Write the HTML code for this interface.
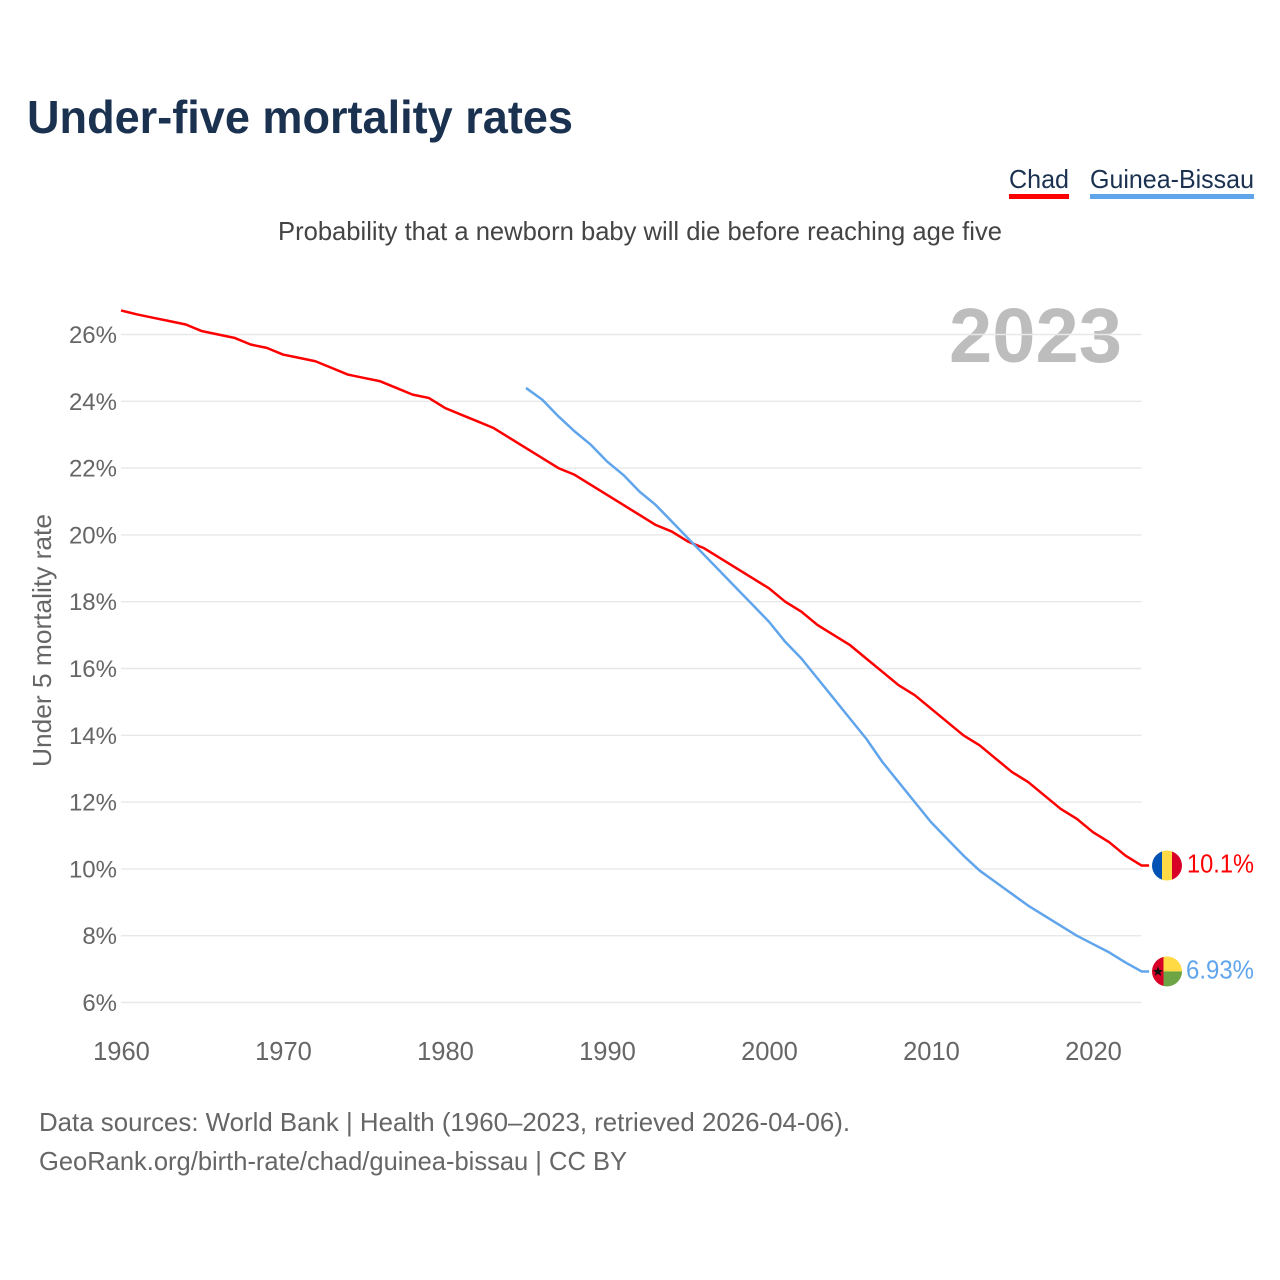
<!DOCTYPE html>
<html lang="en">
<head>
<meta charset="utf-8">
<title>Under-five mortality rates</title>
<style>
html,body{margin:0;padding:0;background:#fff;}
svg{display:block;font-family:"Liberation Sans",sans-serif;}
</style>
</head>
<body>
<svg id="chart" xmlns="http://www.w3.org/2000/svg" width="1280" height="1280" viewBox="0 0 1280 1280">
  <rect width="1280" height="1280" fill="#ffffff"/>
  <defs>
    <clipPath id="flag-clip"><circle cx="0" cy="0" r="15"/></clipPath>
  </defs>
  <text x="27" y="133" font-size="46" font-weight="700" fill="#1a3150" textLength="546" lengthAdjust="spacingAndGlyphs">Under-five mortality rates</text>
  <text x="1009" y="188" font-size="26" fill="#1a3150" textLength="60" lengthAdjust="spacingAndGlyphs">Chad</text>
  <rect x="1009" y="194" width="60" height="5" fill="#ff0000"/>
  <text x="1090" y="188" font-size="26" fill="#1a3150" textLength="164" lengthAdjust="spacingAndGlyphs">Guinea-Bissau</text>
  <rect x="1090" y="194" width="164" height="5" fill="#60a5ec"/>
  <text x="278" y="240" font-size="26" fill="#444444" textLength="724" lengthAdjust="spacingAndGlyphs">Probability that a newborn baby will die before reaching age five</text>
  <text transform="translate(51,767) rotate(-90)" font-size="26" fill="#666666" textLength="253" lengthAdjust="spacingAndGlyphs">Under 5 mortality rate</text>
  <text x="949" y="362" font-size="77" font-weight="700" fill="#bdbdbd" textLength="173" lengthAdjust="spacingAndGlyphs">2023</text>
  <g id="grid"></g>
  <g id="y-ticks"></g>
  <g id="x-ticks"></g>
  <g id="series"></g>
  <g id="flag-chad" clip-path="url(#flag-clip)">
    <rect x="-15" y="-15" width="10" height="30" fill="#0052b4"/>
    <rect x="-5" y="-15" width="10.5" height="30" fill="#ffda44"/>
    <rect x="5" y="-15" width="10" height="30" fill="#d80027"/>
  </g>
  <g id="flag-guinea-bissau" clip-path="url(#flag-clip)">
    <rect x="-15" y="-15" width="11.5" height="30" fill="#d80027"/>
    <rect x="-3.5" y="-15" width="18.5" height="15" fill="#ffda44"/>
    <rect x="-3.5" y="0" width="18.5" height="15" fill="#6da544"/>
    <polygon points="-9,-5 -7.6,-1.5 -4,-1.5 -6.8,0.8 -5.8,4.4 -9,2.3 -12.2,4.4 -11.2,0.8 -14,-1.5 -10.4,-1.5" fill="#111111"/>
  </g>
  <text id="value-chad" x="1187" font-size="26" fill="#ff0000" textLength="67" lengthAdjust="spacingAndGlyphs"></text>
  <text id="value-gb" x="1186" font-size="26" fill="#60a5ec" textLength="68" lengthAdjust="spacingAndGlyphs"></text>
  <text x="39" y="1131" font-size="26" fill="#666666" textLength="811" lengthAdjust="spacingAndGlyphs">Data sources: World Bank | Health (1960–2023, retrieved 2026-04-06).</text>
  <text x="39" y="1170" font-size="26" fill="#666666" textLength="588" lengthAdjust="spacingAndGlyphs">GeoRank.org/birth-rate/chad/guinea-bissau | CC BY</text>
</svg>
<script>
const yTickValues = [6, 8, 10, 12, 14, 16, 18, 20, 22, 24, 26];
const xTickYears = [1960, 1970, 1980, 1990, 2000, 2010, 2020];
const chadStartYear = 1960;
const chadValues = [26.72, 26.6, 26.5, 26.4, 26.3, 26.1, 26.0, 25.9, 25.7, 25.6, 25.4, 25.3, 25.2, 25.0, 24.8, 24.7, 24.6, 24.4, 24.2, 24.1, 23.8, 23.6, 23.4, 23.2, 22.9, 22.6, 22.3, 22.0, 21.8, 21.5, 21.2, 20.9, 20.6, 20.3, 20.1, 19.8, 19.6, 19.3, 19.0, 18.7, 18.4, 18.0, 17.7, 17.3, 17.0, 16.7, 16.3, 15.9, 15.5, 15.2, 14.8, 14.4, 14.0, 13.7, 13.3, 12.9, 12.6, 12.2, 11.8, 11.5, 11.1, 10.8, 10.4, 10.1];
const guineaStartYear = 1985;
const guineaValues = [24.4, 24.05, 23.55, 23.1, 22.7, 22.2, 21.8, 21.3, 20.9, 20.4, 19.9, 19.4, 18.9, 18.4, 17.9, 17.4, 16.8, 16.3, 15.7, 15.1, 14.5, 13.9, 13.2, 12.6, 12.0, 11.4, 10.9, 10.4, 9.95, 9.6, 9.25, 8.9, 8.6, 8.3, 8.0, 7.75, 7.5, 7.2, 6.93];

const xScale = year => 121 + (year - 1960) * 16.2;
const yScale = value => 1002.5 - (value - 6) * 33.4;
const NS = 'http://www.w3.org/2000/svg';
const gridGroup = document.getElementById('grid');
const yTickGroup = document.getElementById('y-ticks');
const xTickGroup = document.getElementById('x-ticks');
const seriesGroup = document.getElementById('series');
const stubEnd = xScale(2023) + 7.5;

yTickValues.forEach(v => {
  const line = document.createElementNS(NS, 'line');
  
  
  line.setAttribute('x1', xScale(1960));
  line.setAttribute('x2', xScale(2023));
  line.setAttribute('y1', yScale(v));
  line.setAttribute('y2', yScale(v));
  line.setAttribute('stroke', '#e8e8e8');
  line.setAttribute('stroke-width', '1.4');
  gridGroup.appendChild(line);

  const label = document.createElementNS(NS, 'text');
  
  
  label.setAttribute('x', 117);
  label.setAttribute('y', yScale(v) + 8.5);
  label.setAttribute('text-anchor', 'end');
  label.setAttribute('font-size', '24');
  label.setAttribute('fill', '#666666');
  label.textContent = v + '%';
  yTickGroup.appendChild(label);
});

xTickYears.forEach(year => {
  const label = document.createElementNS(NS, 'text');
  
  
  label.setAttribute('x', xScale(year) + 0.5);
  label.setAttribute('y', 1060);
  label.setAttribute('text-anchor', 'middle');
  label.setAttribute('font-size', '25.5');
  label.setAttribute('fill', '#666666');
  label.textContent = year;
  xTickGroup.appendChild(label);
});

function seriesPath(startYear, values) {
  const parts = values.map((v, i) => (i ? 'L' : 'M') + xScale(startYear + i).toFixed(2) + ' ' + yScale(v).toFixed(2));
  parts.push('L' + stubEnd.toFixed(2) + ' ' + yScale(values[values.length - 1]).toFixed(2));
  return parts.join(' ');
}

const chadLine = document.createElementNS(NS, 'path');


chadLine.setAttribute('d', seriesPath(chadStartYear, chadValues));
chadLine.setAttribute('fill', 'none');
chadLine.setAttribute('stroke', '#ff0000');
chadLine.setAttribute('stroke-width', '2.5');
chadLine.setAttribute('stroke-linejoin', 'round');
seriesGroup.appendChild(chadLine);

const guineaLine = document.createElementNS(NS, 'path');


guineaLine.setAttribute('d', seriesPath(guineaStartYear, guineaValues));
guineaLine.setAttribute('fill', 'none');
guineaLine.setAttribute('stroke', '#60a5ec');
guineaLine.setAttribute('stroke-width', '2.5');
guineaLine.setAttribute('stroke-linejoin', 'round');
seriesGroup.appendChild(guineaLine);

const chadLast = chadValues[chadValues.length - 1];
const guineaLast = guineaValues[guineaValues.length - 1];
const flagX = xScale(2023) + 25.4;
document.getElementById('flag-chad').setAttribute('transform', 'translate(' + flagX + ',' + yScale(chadLast) + ')');
document.getElementById('flag-guinea-bissau').setAttribute('transform', 'translate(' + flagX + ',' + yScale(guineaLast) + ')');
const chadLabel = document.getElementById('value-chad');
chadLabel.setAttribute('y', yScale(chadLast) + 7);
chadLabel.textContent = chadLast + '%';
const guineaLabel = document.getElementById('value-gb');
guineaLabel.setAttribute('y', yScale(guineaLast) + 7);
guineaLabel.textContent = guineaLast + '%';
</script>
</body>
</html>
